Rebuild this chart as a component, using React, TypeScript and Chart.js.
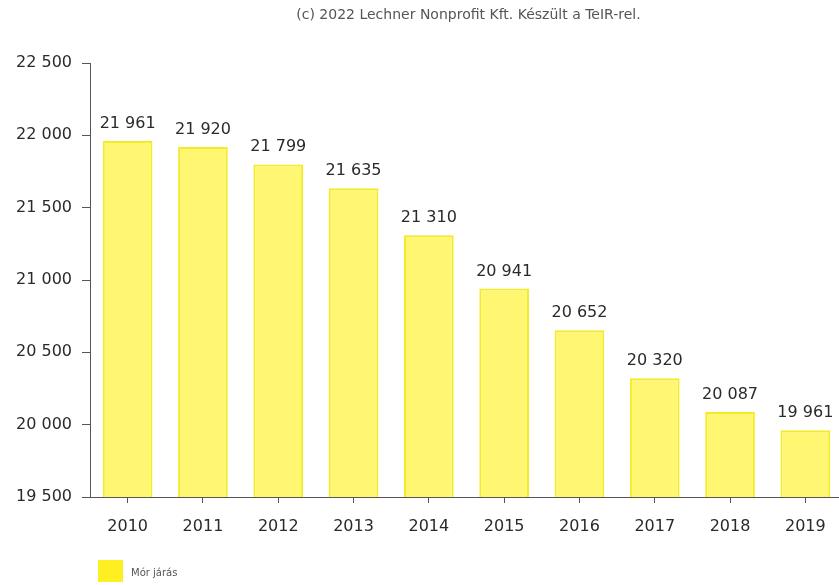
import React, { useEffect, useRef } from "react";
import { Chart, registerables } from "chart.js";

Chart.register(...registerables);

const categories = ["2010", "2011", "2012", "2013", "2014", "2015", "2016", "2017", "2018", "2019"];
const values = [21961, 21920, 21799, 21635, 21310, 20941, 20652, 20320, 20087, 19961];
const seriesName = "Mór járás";
const titleText = "(c) 2022 Lechner Nonprofit Kft. Készült a TeIR-rel.";
const yMin = 19500;
const yMax = 22500;
const yStep = 500;

const FONT = "'DejaVu Sans', Verdana, sans-serif";

function fmt(v: number): string {
  return Math.round(v).toString().replace(/\B(?=(\d{3})+(?!\d))/g, " ");
}

const extrasPlugin = {
  id: "extras",
  afterDatasetsDraw(chart: any) {
    const ctx = chart.ctx;
    const area = chart.chartArea;
    ctx.save();
    // data labels
    const meta = chart.getDatasetMeta(0);
    ctx.font = `16px ${FONT}`;
    ctx.fillStyle = "#2a2a2a";
    ctx.textAlign = "center";
    ctx.textBaseline = "alphabetic";
    meta.data.forEach((el: any, i: number) => {
      ctx.fillText(fmt(values[i]), el.x, el.y - 13);
    });
    // title
    ctx.font = `14px ${FONT}`;
    ctx.fillStyle = "#555555";
    ctx.textBaseline = "middle";
    ctx.fillText(titleText, (area.left + area.right) / 2 + 2, 15);
    // legend
    ctx.fillStyle = "#ffee22";
    ctx.fillRect(98, 560, 25, 22);
    ctx.font = `10px ${FONT}`;
    ctx.fillStyle = "#555555";
    ctx.textAlign = "left";
    ctx.fillText(seriesName, 131, 573);
    ctx.restore();
  },
};

export default function App() {
  const ref = useRef<HTMLCanvasElement | null>(null);
  useEffect(() => {
    if (!ref.current) return;
    const chart = new Chart(ref.current, {
      type: "bar",
      data: {
        labels: categories,
        datasets: [
          {
            label: seriesName,
            data: values,
            backgroundColor: "#fff772",
            borderColor: "#f4eb28",
            borderWidth: 2,
            barPercentage: 0.66,
            categoryPercentage: 1,
          },
        ],
      },
      options: {
        responsive: false,
        animation: false,
        layout: { padding: { top: 63, left: 0, right: 17, bottom: 0 } },
        plugins: {
          legend: { display: false },
          title: { display: false },
          tooltip: { enabled: false },
        },
        scales: {
          x: {
            offset: true,
            grid: {
              offset: false,
              drawOnChartArea: false,
              drawTicks: true,
              tickLength: 6,
              color: "#555555",
            },
            border: { display: true, color: "#555555", width: 1 },
            ticks: {
              color: "#2a2a2a",
              font: { family: FONT, size: 16 },
              padding: 14,
              maxRotation: 0,
            },
            afterFit: (scale: any) => {
              scale.height = 88;
            },
          },
          y: {
            min: yMin,
            max: yMax,
            ticks: {
              stepSize: yStep,
              color: "#2a2a2a",
              font: { family: FONT, size: 16 },
              padding: 10,
              callback: (v: any) => fmt(Number(v)),
            },
            grid: {
              drawOnChartArea: false,
              drawTicks: true,
              tickLength: 8,
              color: "#555555",
            },
            border: { display: true, color: "#555555", width: 1 },
            afterFit: (scale: any) => {
              scale.width = 90;
            },
          },
        },
      },
      plugins: [extrasPlugin],
    });
    return () => chart.destroy();
  }, []);
  return (
    <div
      style={{
        position: "fixed",
        left: 0,
        top: 0,
        width: 839,
        height: 585,
        overflow: "hidden",
        background: "#ffffff",
      }}
    >
      <canvas ref={ref} width={860} height={585} style={{ display: "block" }} />
    </div>
  );
}
